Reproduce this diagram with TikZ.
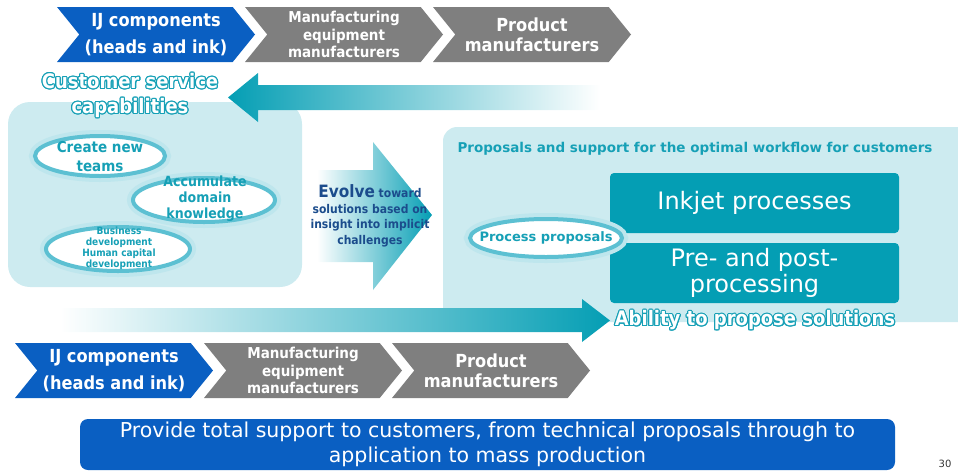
\documentclass[tikz,border=0pt]{standalone}
\usepackage{fontspec}
\setmainfont{DejaVu Sans}
\newfontfamily\condfont{DejaVu Sans Condensed}
\usepackage{contour}
\contourlength{1.1pt}
\usepackage{tikz}
\usetikzlibrary{shapes.symbols,shapes.geometric,positioning}
\definecolor{ijblue}{HTML}{0A5FC2}
\definecolor{mfgray}{HTML}{7F7F7F}
\definecolor{tealtext}{HTML}{16A0B6}
\definecolor{tealbox}{HTML}{049EB4}
\definecolor{panelcol}{HTML}{CDEBF0}
\definecolor{navy}{HTML}{1B4C8C}
\definecolor{glowcol}{HTML}{5CC0D2}
\newcommand{\outl}[1]{{\color{white}\contour{tealtext}{#1}}}

\begin{document}
\begin{tikzpicture}
[x=1pt,y=-1pt,
chev/.style={shape=signal,signal to=east,signal from=west,
  signal pointer angle=102,minimum width=198,minimum height=55,
  inner sep=0,text=white,align=center},
ijchev/.style={chev,fill=ijblue,font=\condfont\bfseries\fontsize{18}{27}\selectfont},
mfgchev/.style={chev,fill=mfgray,font=\condfont\bfseries\fontsize{15}{17.5}\selectfont},
prodchev/.style={chev,fill=mfgray,font=\condfont\bfseries\fontsize{18}{20}\selectfont},
glowring/.style={fill=white,draw=glowcol,line width=4pt,
  preaction={draw=glowcol!40,line width=12pt}},
elltext/.style={inner sep=0,text=tealtext,align=center},
procbox/.style={rectangle,rounded corners=4,fill=tealbox,text=white,
  minimum width=289,minimum height=60,inner sep=0,align=center,
  font=\fontsize{24}{26}\selectfont},
bigarrow/.style={draw=none}]
\useasboundingbox (0,0) rectangle (958,472);
\clip (0,0) rectangle (958,472);

% top value chain
\node (ijtop) [ijchev] at (156,34.5) {IJ components\\(heads and ink)};
\node (mfgtop) [mfgchev] at (344,34.5) {Manufacturing\\equipment\\manufacturers};
\node (prodtop) [prodchev] at (532,34.5) {Product\\manufacturers};

% panels
\fill [panelcol,rounded corners=22] (8,102) rectangle (302,287);
\fill [panelcol,rounded corners=14] (443,127) rectangle (980,322);

% arrows
\shade [bigarrow,left color=tealbox,right color=white]
  (600,85) -- (258,85) -- (258,73) -- (228,97.5) -- (258,122)
  -- (258,110) -- (600,110) -- cycle;
\shade [bigarrow,left color=white,right color=tealbox]
  (317,170) -- (373,170) -- (373,142) -- (432,215) -- (373,290)
  -- (373,262) -- (317,262) -- cycle;
\shade [bigarrow,left color=white,right color=tealbox]
  (60,308) -- (582,308) -- (582,299) -- (610,320.5) -- (582,342)
  -- (582,332) -- (60,332) -- cycle;

% customer service side
\node (custcap) at (130,96) [align=center,font=\condfont\bfseries\fontsize{20}{25}\selectfont]
  {\outl{Customer service}\\\outl{capabilities}};
\path [glowring] (100,156) ellipse [x radius=65,y radius=20];
\node (teams) [elltext,font=\condfont\bfseries\fontsize{15}{19}\selectfont]
  at (100,157) {Create new\\teams};
\path [glowring] (204,200) ellipse [x radius=71,y radius=22];
\node (domain) [elltext,font=\condfont\bfseries\fontsize{14}{16}\selectfont]
  at (205,199) {Accumulate\\domain\\knowledge};
\path [glowring] (118,249) ellipse [x radius=72,y radius=22];
\node (bizdev) [elltext,font=\condfont\bfseries\fontsize{10}{11}\selectfont]
  at (119,248) {Business\\development\\Human capital\\development};

% evolve
\node (evolve) at (370,216) [align=center,text=navy,
  font=\condfont\bfseries\fontsize{12}{15.5}\selectfont]
  {{\fontsize{17}{17}\selectfont Evolve} toward\\solutions based on\\insight into implicit\\challenges};

% solution side
\node (workflow) at (695,149) [text=tealtext,font=\bfseries\fontsize{13.5}{15}\selectfont]
  {Proposals and support for the optimal workflow for customers};
\node (inkjet) [procbox] at (754.5,203) {Inkjet processes};
\node (prepost) [procbox] at (754.5,273) {Pre- and post-\\processing};
\path [glowring] (546,238) ellipse [x radius=76,y radius=19];
\node (procprop) [elltext,font=\bfseries\fontsize{13}{15}\selectfont]
  at (546,238) {Process proposals};
\node (ability) at (755,321) [font=\condfont\bfseries\fontsize{20}{24}\selectfont]
  {\outl{Ability to propose solutions}};

% bottom value chain
\node (ijbot) [ijchev] at (114,370.5) {IJ components\\(heads and ink)};
\node (mfgbot) [mfgchev] at (303,370.5) {Manufacturing\\equipment\\manufacturers};
\node (prodbot) [prodchev] at (491,370.5) {Product\\manufacturers};

% summary
\node (support) [rectangle,rounded corners=8,fill=ijblue,text=white,
  minimum width=815,minimum height=51,inner sep=0,align=center,
  font=\fontsize{20.5}{25}\selectfont] at (487.5,444.5)
  {Provide total support to customers, from technical proposals through to\\application to mass production};
\node (pagenum) at (945,464) [font=\fontsize{10}{12}\selectfont,text=black!80] {30};
\end{tikzpicture}
\end{document}
